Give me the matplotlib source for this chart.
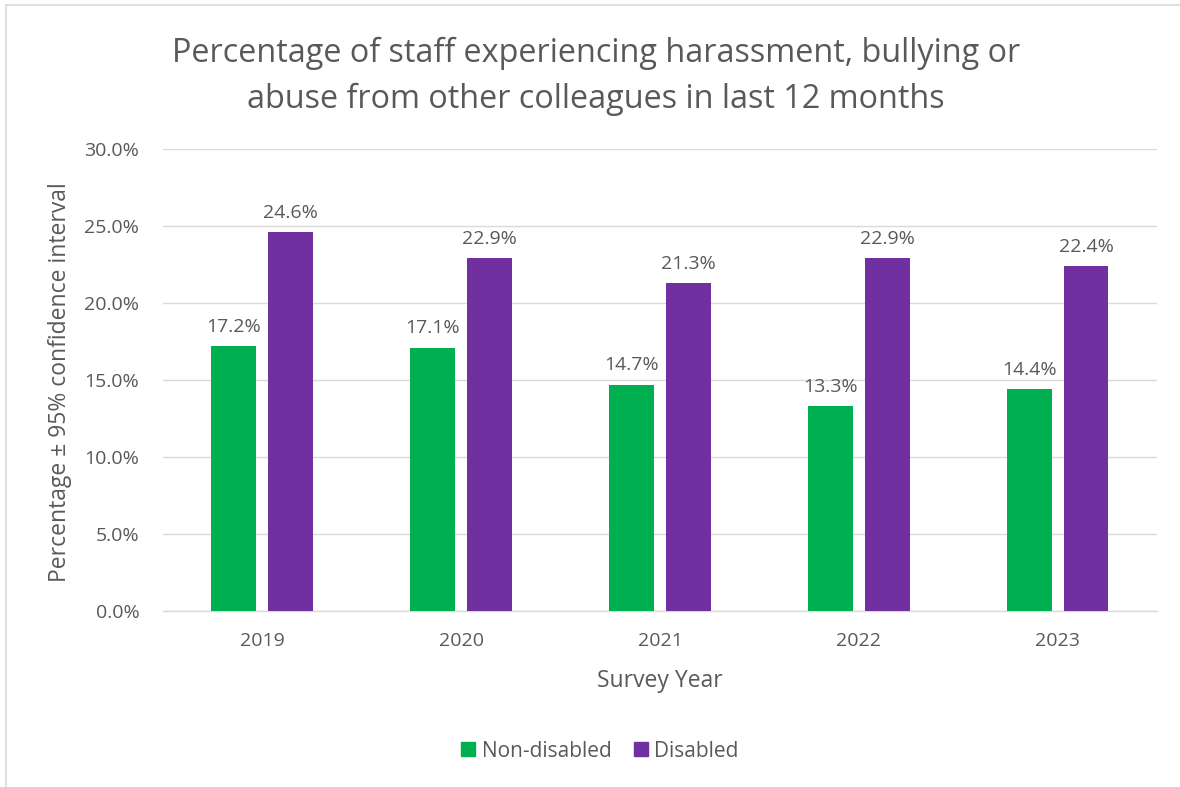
import numpy as np
import matplotlib

matplotlib.use("Agg")
import matplotlib.pyplot as plt
from matplotlib.lines import Line2D
from matplotlib.ticker import FuncFormatter

years = ["2019", "2020", "2021", "2022", "2023"]
non_disabled = [17.2, 17.1, 14.7, 13.3, 14.4]
disabled = [24.6, 22.9, 21.3, 22.9, 22.4]

GREEN = "#00B050"
PURPLE = "#7030A0"
TEXT = "#595959"
GRID = "#D9D9D9"

plt.rcParams["font.family"] = ["Open Sans", "DejaVu Sans"]

fig = plt.figure(figsize=(11.8, 7.87), dpi=100)
ax = fig.add_axes([0.1381, 0.2236, 0.8424, 0.5871])

x = np.arange(len(years))
w = 0.226
off = 0.143
bars_nd = ax.bar(x - off, non_disabled, w, color=GREEN, label="Non-disabled", zorder=3)
bars_d = ax.bar(x + off, disabled, w, color=PURPLE, label="Disabled", zorder=3)

for bars, vals in ((bars_nd, non_disabled), (bars_d, disabled)):
    for b, v in zip(bars, vals):
        ax.annotate(f"{v:.1f}%", (b.get_x() + b.get_width() / 2, v),
                    xytext=(0, 7.5), textcoords="offset points",
                    ha="center", va="bottom", fontsize=14, color=TEXT)

ax.set_xlim(-0.5, len(years) - 0.5)
ax.set_ylim(0, 30)
ax.set_yticks(np.arange(0, 30.1, 5))
ax.yaxis.set_major_formatter(FuncFormatter(lambda v, _: f"{v:.1f}%"))
ax.set_xticks(x)
ax.set_xticklabels(years)
ax.tick_params(axis="both", length=0, labelsize=14, colors=TEXT)
ax.tick_params(axis="x", pad=15)
ax.tick_params(axis="y", pad=17)

ax.grid(axis="y", color=GRID, linewidth=1, zorder=0)
for s in ("top", "right", "left"):
    ax.spines[s].set_visible(False)
ax.spines["bottom"].set_color(GRID)
ax.spines["bottom"].set_linewidth(1)

ax.set_xlabel("Survey Year", fontsize=16.5, color=TEXT, va="center")
ax.xaxis.set_label_coords(0.5, -0.1515)
ax.set_ylabel("Percentage ± 95% confidence interval", fontsize=16.5, color=TEXT, va="center")
ax.yaxis.set_label_coords(-0.1036, 0.496)

fig.text(0.505, 0.903, "Percentage of staff experiencing harassment, bullying or\nabuse from other colleagues in last 12 months",
         ha="center", va="center", fontsize=23.3, color=TEXT, linespacing=1.54)

handles = [Line2D([], [], marker="s", linestyle="none", markersize=10.5, color=GREEN),
           Line2D([], [], marker="s", linestyle="none", markersize=10.5, color=PURPLE)]
fig.legend(handles, ["Non-disabled", "Disabled"], loc="center", bbox_to_anchor=(0.507, 0.0457),
           ncol=2, frameon=False, fontsize=15, labelcolor=TEXT,
           handletextpad=0.15, columnspacing=0.9, handlelength=1.0)

# outer frame of the chart area (left and top edges only)
fig.add_artist(Line2D([6 / 1180, 6 / 1180], [0, 1 - 5 / 787], transform=fig.transFigure, color=GRID, linewidth=1.2))
fig.add_artist(Line2D([6 / 1180, 1], [1 - 5 / 787, 1 - 5 / 787], transform=fig.transFigure, color=GRID, linewidth=1.2))

fig.savefig("out.png", dpi=100)
